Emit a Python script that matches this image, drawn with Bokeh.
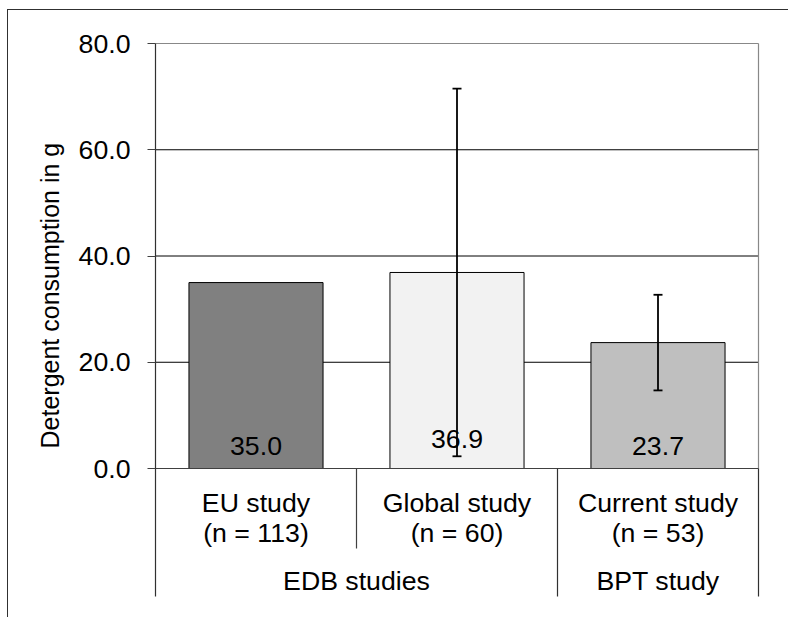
from bokeh.plotting import figure
from bokeh.models import Range1d, FixedTicker, ColumnDataSource, Whisker, TeeHead, Title
from bokeh.core.properties import value
from bokeh.embed import file_html
from bokeh.resources import INLINE

# ---- data ----
categories = ["EU study", "Global study", "Current study"]
sample_sizes = [113, 60, 53]
groups = ["EDB studies", "BPT study"]
group_members = [2, 1]          # number of categories in each group
means = [35.0, 36.9, 23.7]
sd = [None, 34.6, 9.0]
bar_colors = ["#808080", "#f2f2f2", "#bfbfbf"]
y_ticks = [0, 20, 40, 60, 80]
y_title = "Detergent consumption in g"

FONT = value("Liberation Sans")
FS = "26.7px"
PX_PER_X = 201.0
PX_PER_Y = 5.3125

p = figure(width=781, height=608, output_backend="svg", toolbar_location=None,
           x_range=Range1d(-5 / PX_PER_X, 3 + 6 / PX_PER_X),
           y_range=Range1d(-150 / PX_PER_Y, (468 - 40) / PX_PER_Y),
           x_axis_location=None, min_border_left=142, min_border_right=25,
           min_border_top=30, min_border_bottom=0)
p.styles = {"margin-left": "7px", "margin-top": "9px",
            "border-left": "1px solid #303030", "border-top": "1px solid #303030"}
p.outline_line_color = None
p.xgrid.visible = False
p.ygrid.visible = False

yax = p.yaxis[0]
yax.ticker = FixedTicker(ticks=y_ticks)
yax.bounds = (0, 80)
yax.major_label_overrides = {t: f"{t:.1f}" for t in y_ticks}
yax.axis_line_color = None
yax.major_tick_out = 3
yax.major_tick_in = 5
yax.major_tick_line_color = "#404040"
yax.minor_tick_line_color = None
yax.major_label_standoff = 17
yax.major_label_text_font = "Liberation Sans"
yax.major_label_text_font_size = FS
yax.major_label_text_color = "black"

# y-axis title as a side title
p.add_layout(Title(text=y_title, align="left", offset=170, standoff=23,
                   text_font="Liberation Sans", text_font_size="25px",
                   text_font_style="normal", text_color="black"), "left")

n = len(categories)
xs = [i + 0.5 for i in range(n)]

# gridlines (20..60 black), top border gray
grid_vals = [t for t in y_ticks if 0 < t < y_ticks[-1]]
p.segment(x0=[0] * len(grid_vals), x1=[n] * len(grid_vals), y0=grid_vals, y1=grid_vals,
          line_color="black", line_width=1)
p.segment(x0=[0, n], x1=[n, n], y0=[y_ticks[-1], y_ticks[-1]], y1=[y_ticks[-1], 0],
          line_color="#888888", line_width=1.2)

# bars
src = ColumnDataSource(dict(x=xs, top=means, color=bar_colors,
                            label=[f"{m:.1f}" for m in means]))
p.vbar(x="x", top="top", bottom=0, width=0.667, source=src,
       fill_color="color", line_color="black", line_width=1)

# value labels at bar base
label_offsets = [-23, -30, -23]
for x, lab, off in zip(xs, src.data["label"], label_offsets):
    p.text(x=[x], y=[0], text=[lab], text_align="center", text_baseline="alphabetic",
           y_offset=off, text_font=FONT, text_font_size=FS, text_color="black")

# error bars
ex = [x for x, s in zip(xs, sd) if s is not None]
em = [m for m, s in zip(means, sd) if s is not None]
es = [s for s in sd if s is not None]
esrc = ColumnDataSource(dict(base=ex, upper=[m + s for m, s in zip(em, es)],
                             lower=[m - s for m, s in zip(em, es)]))
w = Whisker(source=esrc, base="base", upper="upper", lower="lower",
            line_color="black", line_width=1.8, level="overlay",
            upper_head=TeeHead(size=9, line_color="black", line_width=1.8),
            lower_head=TeeHead(size=9, line_color="black", line_width=1.8))
p.add_layout(w)

# category axis: x axis line and separators
sub_px = -80 / PX_PER_Y
grp_px = -128 / PX_PER_Y
p.segment(x0=[0], x1=[n], y0=[0], y1=[0], line_color="#404040", line_width=1.2)
p.segment(x0=[0], x1=[0], y0=[grp_px], y1=[y_ticks[-1]], line_color="#303030", line_width=1.2)
bounds = [0]
for g in group_members:
    bounds.append(bounds[-1] + g)
inner = [i for i in range(1, n) if i not in bounds]
p.segment(x0=inner, x1=inner, y0=[0] * len(inner), y1=[sub_px] * len(inner),
          line_color="#404040", line_width=1.2)
outer = bounds[1:]
p.segment(x0=outer, x1=outer, y0=[0] * len(outer), y1=[grp_px] * len(outer),
          line_color="#303030", line_width=1.2)

p.text(x=xs, y=[0] * n, text=categories, text_align="center", text_baseline="alphabetic",
       y_offset=34, text_font=FONT, text_font_size=FS, text_color="black")
p.text(x=xs, y=[0] * n, text=[f"(n = {k})" for k in sample_sizes], text_align="center",
       text_baseline="alphabetic", y_offset=64, text_font=FONT, text_font_size=FS,
       text_color="black")
gx = [(bounds[i] + bounds[i + 1]) / 2 for i in range(len(groups))]
p.text(x=gx, y=[0] * len(groups), text=groups, text_align="center", text_baseline="alphabetic",
       y_offset=112, text_font=FONT, text_font_size=FS, text_color="black")

open("out.html", "w").write(file_html(p, INLINE))
